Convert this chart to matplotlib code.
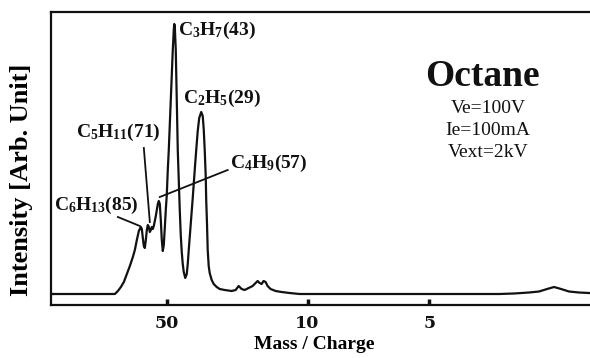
"""
    octane_spectrum

    Mass spectrum of octane (time-of-flight channel axis, labelled in m/z).
"""

import matplotlib
matplotlib.use("Agg")
import matplotlib.pyplot as plt
import numpy as np

plt.rcParams["font.family"] = ["Liberation Serif", "DejaVu Serif"]
plt.rcParams["mathtext.fontset"] = "custom"
plt.rcParams["mathtext.rm"] = "Liberation Serif:bold"
plt.rcParams["mathtext.it"] = "Liberation Serif:bold"
plt.rcParams["mathtext.bf"] = "Liberation Serif:bold"

# flight-time channel (arb.) and intensity (arb.)
channel = [0, 64, 67, 70, 73, 76, 79, 82, 84, 86, 88, 90, 91, 92, 93, 94, 95, 96,
           97, 98, 99, 100, 101, 102, 103, 105, 107, 108, 109, 110, 111, 112, 113,
           114, 115, 116, 117, 118, 119, 120, 121, 122, 123, 123.5, 124, 125, 126,
           127, 128, 129, 130, 131, 132, 133, 134.5, 136, 137, 138, 140, 142,
           144, 145.5, 147, 148.5, 150.5, 152, 153, 154, 155, 155.5, 156.3, 157,
           158, 159, 161, 163, 166, 169, 174, 181, 185, 188, 191, 194, 198, 202,
           205, 207, 209, 211, 213, 215, 217, 220, 225, 231, 239, 249, 399, 449,
           464, 479, 489, 497, 504, 511, 519, 529, 539]
intensity = [0, 0, 3, 7, 12, 20, 28, 37, 44, 54, 63, 67, 65, 56, 48, 46, 54, 64,
             69, 67, 62, 64, 67, 65, 68, 78, 90, 93, 90, 74, 54, 43, 49,
             66, 84, 99, 124, 144, 169, 194, 219, 244, 264, 270, 268, 244, 194,
             144, 114, 84, 59, 42, 30, 22, 16, 20, 30, 44, 70, 96,
             124, 144, 163, 176, 182, 178, 165, 144, 118, 94, 70, 44,
             28, 21, 14, 10, 7, 5, 4, 3, 4, 8, 5, 4, 6, 8,
             11, 13, 11, 10, 13, 12, 8, 5, 3, 2, 1, 0, 0, 0,
             0.5, 1.5, 2.5, 5, 7, 5, 2.5, 1.5, 1]

tick_pos = [116, 257, 379]
tick_labels = ["50", "10", "5"]

# fragment labels: text, text anchor, leader line (start, end) or None
frag_text = [r"C$_3$H$_7$(43)", r"C$_2$H$_5$(29)", r"C$_5$H$_{11}$(71)",
             r"C$_4$H$_9$(57)", r"C$_6$H$_{13}$(85)"]
frag_xy = [(127, 264), (132, 196), (25, 162), (179, 131), (3, 89)]
frag_lines = [None, None, ((93, 146), (99, 72)), ((177, 124), (109, 97)),
              ((67, 77), (89, 68))]

fig = plt.figure(figsize=(5.9, 3.58), dpi=100)
ax = fig.add_axes([51 / 590, 53 / 358, 539 / 590, 293 / 358])

ax.plot(channel, intensity, color="#111111", lw=1.6, solid_joinstyle="round")

for txt, xy, ln in zip(frag_text, frag_xy, frag_lines):
    ax.text(xy[0], xy[1], txt, fontsize=14, fontweight="bold", ha="left",
            va="center", color="#111111")
    if ln is not None:
        ax.plot([ln[0][0], ln[1][0]], [ln[0][1], ln[1][1]], color="#111111", lw=1.3)

ax.text(0.80, 0.78, "Octane", transform=ax.transAxes, fontsize=27,
        fontweight="bold", ha="center", va="center", color="#111111")
for i, s in enumerate(["Ve=100V", "Ie=100mA", "Vext=2kV"]):
    ax.text(0.811, 0.672 - i * 0.076, s, transform=ax.transAxes, fontsize=14,
            ha="center", va="center", color="#111111")

ax.set_xlim(0, 540)
ax.set_ylim(-11, 282)

ax.set_xticks(tick_pos)
ax.set_xticklabels(tick_labels, fontfamily="DejaVu Serif", fontweight="bold",
                   fontsize=12.5)
ax.tick_params(axis="x", direction="in", length=4, width=2.5, pad=7,
               colors="#111111")
ax.set_yticks([0])
ax.set_yticklabels([])
ax.tick_params(axis="y", direction="in", length=3, width=1.5)

ax.set_xlabel("Mass / Charge", fontsize=14, fontweight="bold")
ax.xaxis.set_label_coords(0.489, -0.1365)
ax.xaxis.label.set_va("center")
ax.set_ylabel("Intensity [Arb. Unit]", fontsize=19, fontweight="bold")
ax.yaxis.set_label_coords(-0.054, 0.427)
ax.yaxis.label.set_va("center")

ax.spines["right"].set_visible(False)
for s in ["left", "top", "bottom"]:
    ax.spines[s].set_linewidth(1.6)
    ax.spines[s].set_color("#111111")

fig.savefig("out.png", dpi=100)
